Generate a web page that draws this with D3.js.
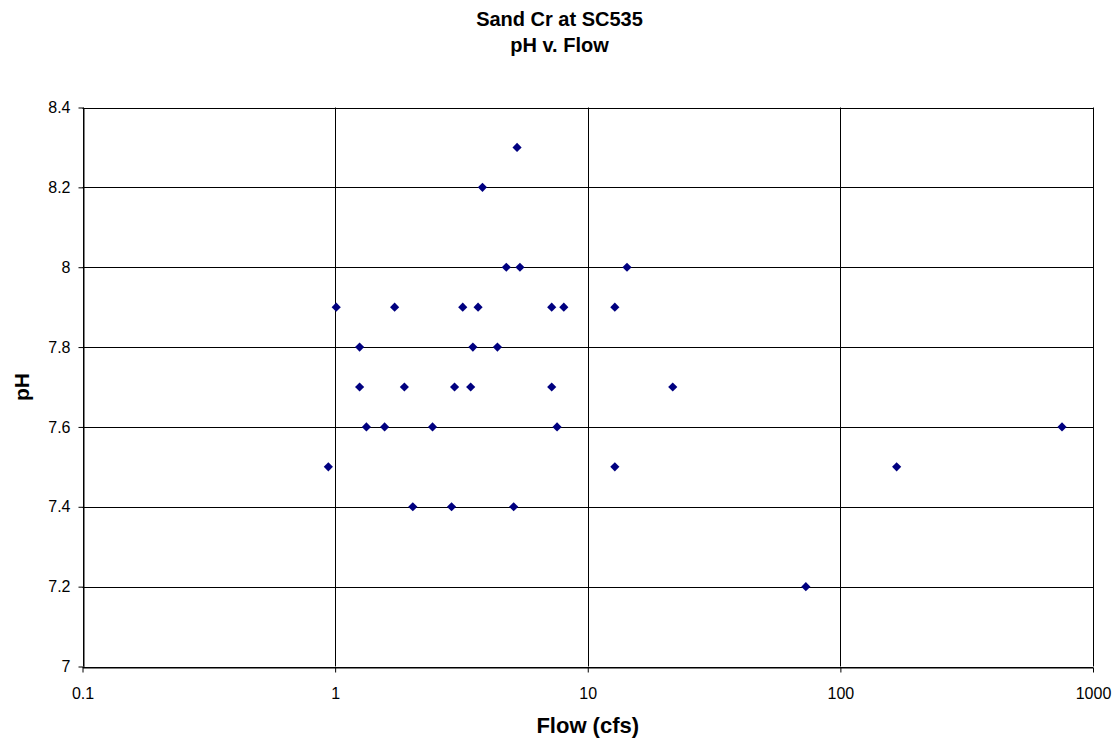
<!DOCTYPE html>
<html lang="en">
<head>
<meta charset="UTF-8">
<title>Sand Cr at SC535 pH v. Flow</title>
<script src="https://d3js.org/d3.v7.min.js"></script>
<style>
    body { margin: 0; background: #fff; }
    text { font-family: "Liberation Sans", Arial, sans-serif; }
</style>
</head>
<body>
<script>
// data
var flow = [0.94, 1.01, 1.25, 1.25, 1.33, 1.57, 1.72, 1.88, 2.03, 2.43, 2.89,
            2.97, 3.2, 3.44, 3.51, 3.68, 3.83, 4.39, 4.76, 5.09, 5.25, 5.39,
            7.2, 7.2, 7.56, 8.04, 12.8, 12.8, 14.3, 21.7, 73, 167, 754];
var ph = [7.5, 7.9, 7.8, 7.7, 7.6, 7.6, 7.9, 7.7, 7.4, 7.6, 7.4,
          7.7, 7.9, 7.7, 7.8, 7.9, 8.2, 7.8, 8.0, 7.4, 8.3, 8.0,
          7.9, 7.7, 7.6, 7.9, 7.9, 7.5, 8.0, 7.7, 7.2, 7.5, 7.6];
var xTicks = [0.1, 1, 10, 100, 1000];
var xTickLabels = ["0.1", "1", "10", "100", "1000"];
var yTicks = [7, 7.2, 7.4, 7.6, 7.8, 8, 8.2, 8.4];
var yTickLabels = ["7", "7.2", "7.4", "7.6", "7.8", "8", "8.2", "8.4"];

var w = 1119, h = 742;
var margin = {top: 107.5, right: 26, bottom: 75.5, left: 82.5};

var svg = d3.select("body").append("svg")
    .attr("width", w)
    .attr("height", h);

var x = d3.scaleLog()
    .domain([0.1, 1000])
    .range([margin.left, w - margin.right]);

var y = d3.scaleLinear()
    .domain([7, 8.4])
    .range([h - margin.bottom, margin.top]);

// gridlines
svg.append("g").selectAll("line.h")
    .data(yTicks)
    .enter().append("line")
    .attr("x1", margin.left).attr("x2", w - margin.right)
    .attr("y1", function(d){ return Math.round(y(d)) + 0.5; })
    .attr("y2", function(d){ return Math.round(y(d)) + 0.5; })
    .attr("stroke", "#000").attr("stroke-width", 1);

svg.append("g").selectAll("line.v")
    .data(xTicks)
    .enter().append("line")
    .attr("y1", margin.top).attr("y2", h - margin.bottom)
    .attr("x1", function(d){ return Math.round(x(d)) + 0.5; })
    .attr("x2", function(d){ return Math.round(x(d)) + 0.5; })
    .attr("stroke", "#000").attr("stroke-width", 1);

// axes
var xAxis = d3.axisBottom(x)
    .tickValues(xTicks)
    .tickFormat(function(d, i){ return xTickLabels[i]; })
    .tickSizeInner(5).tickSizeOuter(0).tickPadding(15);

var gx = svg.append("g")
    .attr("transform", "translate(0," + (Math.round(y(7)) + 0.5) + ")")
    .call(xAxis);

var yAxis = d3.axisLeft(y)
    .tickValues(yTicks)
    .tickFormat(function(d, i){ return yTickLabels[i]; })
    .tickSizeInner(5).tickSizeOuter(0).tickPadding(8);

var gy = svg.append("g")
    .attr("transform", "translate(" + (Math.round(x(0.1)) + 0.5) + ",0)")
    .call(yAxis);

[gx, gy].forEach(function(g){
    g.select(".domain").attr("stroke", "#000");
    g.selectAll(".tick line").attr("stroke", "#000");
    g.selectAll(".tick text")
        .attr("fill", "#000")
        .style("font-family", '"Liberation Sans", Arial, sans-serif')
        .style("font-size", "16px");
});

// points
var diamond = d3.symbol().type(d3.symbolSquare).size(42);
svg.append("g").selectAll("path")
    .data(flow)
    .enter().append("path")
    .attr("d", diamond)
    .attr("transform", function(d, i){
        return "translate(" + x(d) + "," + y(ph[i]) + ") rotate(45)";
    })
    .attr("fill", "#000080");

// titles
var title = svg.append("text")
    .attr("text-anchor", "middle")
    .style("font-size", "20px")
    .style("font-weight", "bold");
title.append("tspan").attr("x", w / 2).attr("y", 26).text("Sand Cr at SC535");
title.append("tspan").attr("x", w / 2).attr("y", 52).text("pH v. Flow");

svg.append("text")
    .attr("x", (margin.left + w - margin.right) / 2)
    .attr("y", 733)
    .attr("text-anchor", "middle")
    .style("font-size", "22px")
    .style("font-weight", "bold")
    .text("Flow (cfs)");

svg.append("text")
    .attr("transform", "translate(29," + ((margin.top + h - margin.bottom) / 2) + ") rotate(-90)")
    .attr("text-anchor", "middle")
    .style("font-size", "21px")
    .style("font-weight", "bold")
    .text("pH");
</script>
</body>
</html>
